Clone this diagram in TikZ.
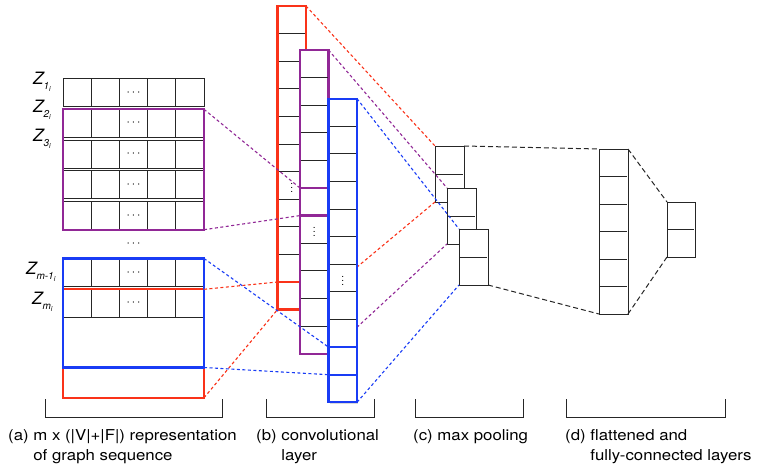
\documentclass[tikz,border=0pt]{standalone}
\usepackage{fontspec}
\setmainfont{TeX Gyre Heros}
\usepackage{tikz}
\usetikzlibrary{positioning,fit,shadows}
\usepackage{xcolor}

\definecolor{winred}{RGB}{250,50,25}
\definecolor{winpurple}{RGB}{145,40,150}
\definecolor{winblue}{RGB}{25,60,245}

\pgfdeclarelayer{background}
\pgfsetlayers{background,main}

% nested subscript for the row labels
\newcommand{\zsub}[1]{\raisebox{-0.45ex}{\fontsize{10}{10}\selectfont #1\raisebox{-0.45ex}{\fontsize{7}{7}\selectfont i}}}
% captions are set a little wide
\newcommand{\widecap}[1]{\scalebox{1.12}[1]{#1}}

\begin{document}
\begin{tikzpicture}[x=1pt, y=-1pt, node distance=2.8pt]
	% Define styles for boxes
	\tikzset{
		rowbox/.style={
			rectangle,
			draw=black!85,
			line width=0.8pt,
			minimum width=141pt,
			minimum height=28pt,
			inner sep=0pt,
			outer sep=0pt,
			anchor=north west,
			font=\fontsize{11.5}{11.5}\selectfont
		},
		window/.style={
			rectangle,
			line width=2.2pt,
			inner sep=0pt,
			outer sep=0pt,
			minimum width=141pt
		},
		convcol/.style={
			rectangle,
			fill=white,
			line width=2.2pt,
			minimum width=28.5pt,
			minimum height=303.6pt,
			inner sep=0pt,
			outer sep=0pt,
			anchor=north west,
			drop shadow={shadow xshift=1pt, shadow yshift=-1.5pt, opacity=0.3}
		},
		convcell/.style={
			rectangle,
			line width=2.2pt,
			minimum width=28.5pt,
			minimum height=27.6pt,
			inner sep=0pt,
			outer sep=0pt,
			anchor=north
		},
		poolbox/.style={
			rectangle,
			draw=black!85,
			fill=white,
			line width=0.9pt,
			minimum width=29pt,
			minimum height=56pt,
			inner sep=0pt,
			outer sep=0pt,
			anchor=north west,
			drop shadow={shadow xshift=1pt, shadow yshift=-1.5pt, opacity=0.3}
		},
		vdotsnode/.style={inner sep=0pt, font=\fontsize{10}{10}\selectfont},
		cellline/.style={black!85, line width=0.9pt, shorten <=1pt, shorten >=1pt},
		zlabel/.style={anchor=base west, inner sep=0pt, font=\fontsize{17}{17}\selectfont\itshape},
		caption/.style={anchor=base west, inner sep=0pt, font=\fontsize{15}{20.5}\selectfont},
		bracket/.style={black!85, line width=0.9pt},
		reddash/.style={winred, line width=1.1pt, dash pattern=on 3pt off 2.5pt},
		purpledash/.style={winpurple, line width=1.1pt, dash pattern=on 3pt off 2.5pt},
		bluedash/.style={winblue, line width=1.1pt, dash pattern=on 3pt off 2.5pt},
		blackdash/.style={black!85, line width=1pt, dash pattern=on 5pt off 3pt}
	}
	\useasboundingbox (0,0) rectangle (763,470);
	
	% Rows of the input matrix
	\node[rowbox] (z1) at (63,78.5) {$\cdots$};
	\node[rowbox, below=of z1] (z2) {$\cdots$};
	\node[rowbox, below=of z2] (z3) {$\cdots$};
	\node[rowbox, below=of z3] (z4) {$\cdots$};
	\node[rowbox, below=of z4] (z5) {$\cdots$};
	\node[rowbox] (zm1) at (63,258.5) {$\cdots$};
	\node[rowbox, below=of zm1] (zm) {$\cdots$};
	\node[font=\fontsize{11.5}{11.5}\selectfont, inner sep=0pt] (gapdots) at (133.5,244) {$\cdots$};
	
	% column lines inside the rows
	\foreach \r in {z1,z2,z3,z4,z5,zm1,zm}
		\foreach \k in {1,...,4}
			\draw[black!85, line width=0.8pt] ([xshift=\k*28.2pt]\r.north west) -- ([xshift=\k*28.2pt]\r.south west);
	
	% Row labels
	\node[zlabel] (lz1) at (33,85) {Z\zsub{1}};
	\node[zlabel] (lz2) at (33,113) {Z\zsub{2}};
	\node[zlabel] (lz3) at (33,142) {Z\zsub{3}};
	\node[zlabel] (lzm1) at (26,275) {Z\zsub{m-1}};
	\node[zlabel] (lzm) at (32,305) {Z\zsub{m}};
	
	% Filter windows on the matrix
	\node[window, draw=winpurple, fit=(z2)(z5)] (winP) {};
	\node[window, draw=winred, minimum height=108.5pt, anchor=north west] (winR) at (zm.north west) {};
	\node[window, draw=winblue, minimum height=109pt, anchor=north west] (winB) at (zm1.north west) {};
	
	% Convolutional layer, one column per window
	\node[convcol, draw=winred] (convR) at (277.5,6) {};
	\foreach \k in {1,...,10}
		\draw[cellline] ([yshift=-\k*27.6pt]convR.north west) -- ([yshift=-\k*27.6pt]convR.north east);
	\node[convcell, draw=winred] (cellR) at ([yshift=-276pt]convR.north) {};
	\node[vdotsnode] (vdR) at ([yshift=-27.6pt]convR.center) {$\vdots$};
	
	\node[convcol, draw=winpurple, below right=44pt and 22.5pt of convR.north west] (convP) {};
	\foreach \k in {1,...,10}
		\draw[cellline] ([yshift=-\k*27.6pt]convP.north west) -- ([yshift=-\k*27.6pt]convP.north east);
	\node[convcell, draw=winpurple] (cellP) at ([yshift=-138pt]convP.north) {};
	\node[vdotsnode] (vdP) at ([yshift=-27.6pt]convP.center) {$\vdots$};
	
	\node[convcol, draw=winblue, below right=48.7pt and 28.5pt of convP.north west] (convB) {};
	\foreach \k in {1,...,10}
		\draw[cellline] ([yshift=-\k*27.6pt]convB.north west) -- ([yshift=-\k*27.6pt]convB.north east);
	\node[convcell, draw=winblue] (cellB) at ([yshift=-248.4pt]convB.north) {};
	\node[vdotsnode] (vdB) at ([yshift=-27.6pt]convB.center) {$\vdots$};
	
	% Windows into the feature maps
	\draw[purpledash] (winP.north east) -- (cellP.north west);
	\draw[purpledash] (winP.south east) -- (cellP.south west);
	\draw[reddash] (winR.north east) -- (cellR.north west);
	\draw[reddash] (winR.south east) -- (cellR.south west);
	\draw[bluedash] (winB.north east) -- (cellB.north west);
	\draw[bluedash] (winB.south east) -- (cellB.south west);
	
	% Max pooling, kept behind the feature maps
	\begin{pgfonlayer}{background}
		\node[poolbox] (pool1) at (435,146) {};
		\draw[cellline] (pool1.west) -- (pool1.east);
		\node[poolbox, below right=42pt and 12pt of pool1.north west] (pool2) {};
		\draw[cellline] (pool2.west) -- (pool2.east);
		\node[poolbox, below right=41pt and 12pt of pool2.north west] (pool3) {};
		\draw[cellline] (pool3.west) -- (pool3.east);
		
		\draw[reddash] (convR.north east) -- (pool1.north west);
		\draw[reddash] (convR.south east) -- (pool1.south west);
		\draw[purpledash] (convP.north east) -- (pool2.north west);
		\draw[purpledash] (convP.south east) -- (pool2.south west);
		\draw[bluedash] (convB.north east) -- (pool3.north west);
		\draw[bluedash] (convB.south east) -- (pool3.south west);
	\end{pgfonlayer}
	
	% Flattened and fully-connected layers
	\node[poolbox, minimum height=165pt] (flat) at (599,149) {};
	\foreach \k in {1,...,5}
		\draw[cellline] ([yshift=-\k*27.5pt]flat.north west) -- ([yshift=-\k*27.5pt]flat.north east);
	\node[poolbox, minimum width=28pt, minimum height=55pt] (fc) at (667,202) {};
	\draw[cellline] (fc.west) -- (fc.east);
	
	\draw[blackdash] (pool1.north east) -- (flat.north west);
	\draw[blackdash] (pool3.south east) -- (flat.south west);
	\draw[blackdash] (flat.north east) -- (fc.north west);
	\draw[blackdash] (flat.south east) -- (fc.south west);
	
	% Brackets and captions
	\draw[bracket] (45,399) |- (222.7,417.3) -- (222.7,399);
	\draw[bracket] (266,399) |- (374,417.3) -- (374,399);
	\draw[bracket] (415.7,399) |- (523,417.3) -- (523,399);
	\draw[bracket] (566,399) |- (725,417.3) -- (725,399);
	
	\node[caption] (capA) at (8,440) {\widecap{(a)~\begin{tabular}[t]{@{}l@{}}m x (|V|+|F|) representation\\of graph sequence\end{tabular}}};
	\node[caption] (capB) at (256,440) {\widecap{(b)~\begin{tabular}[t]{@{}l@{}}convolutional\\layer\end{tabular}}};
	\node[caption] (capC) at (413,440) {\widecap{(c) max pooling}};
	\node[caption] (capD) at (565,440) {\widecap{(d)~\begin{tabular}[t]{@{}l@{}}flattened and\\fully-connected layers\end{tabular}}};
\end{tikzpicture}
\end{document}
